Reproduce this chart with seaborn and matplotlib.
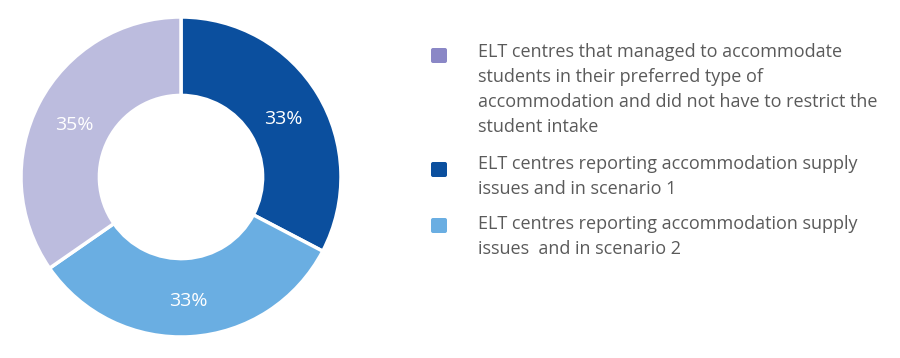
import matplotlib
matplotlib.use("Agg")
import matplotlib.pyplot as plt
import seaborn as sns
from matplotlib.patches import FancyBboxPatch

# ==========================================
# Data
# ==========================================

shares = [33, 33, 35]
slice_colors = ["#0b4f9e", "#6aaee2", "#bcbcde"]
legend_colors = ["#8a87c6", "#0b4f9e", "#6aaee2"]
legend_labels = [
    "ELT centres that managed to accommodate\nstudents in their preferred type of\n"
    "accommodation and did not have to restrict the\nstudent intake",
    "ELT centres reporting accommodation supply\nissues and in scenario 1",
    "ELT centres reporting accommodation supply\nissues  and in scenario 2",
]

# ==========================================
# Figure
# ==========================================

sns.set_style("white")
plt.rcParams["font.family"] = ["Open Sans", "DejaVu Sans"]

W, H = 900, 358
fig = plt.figure(figsize=(W / 100, H / 100), dpi=100)

# donut axes: centre (181,177), radius 160 px
ax = fig.add_axes([21 / W, (H - 337) / H, 320 / W, 320 / H])
wedges, texts, pcts = ax.pie(
    shares,
    colors=slice_colors,
    startangle=90,
    counterclock=False,
    radius=1,
    autopct="%.0f%%",
    pctdistance=0.75,
    wedgeprops=dict(width=0.49, edgecolor="white", linewidth=2.5),
    textprops=dict(color="white", fontsize=14),
)
# nudge labels down a little (reference uses old-style figures)
for t in pcts:
    x, y = t.get_position()
    t.set_position((x, y - 0.025))
ax.set_xlim(-1, 1)
ax.set_ylim(-1, 1)
ax.set_aspect("equal")
ax.axis("off")

# legend drawn on an overlay in pixel coordinates
lg = fig.add_axes([0, 0, 1, 1])
lg.set_xlim(0, W)
lg.set_ylim(H, 0)
lg.axis("off")

box_tops = [47, 161, 217]
text_tops = [43, 155, 215]
for col, lab, by, ty in zip(legend_colors, legend_labels, box_tops, text_tops):
    lg.add_patch(FancyBboxPatch((431, by + 1), 16, 15,
                                boxstyle="round,pad=0,rounding_size=2",
                                facecolor=col, edgecolor="none"))
    lg.text(478, ty, lab, fontsize=13, color="#5a5a5a",
            va="top", ha="left", linespacing=1.5)

plt.savefig("out.png", dpi=100)
